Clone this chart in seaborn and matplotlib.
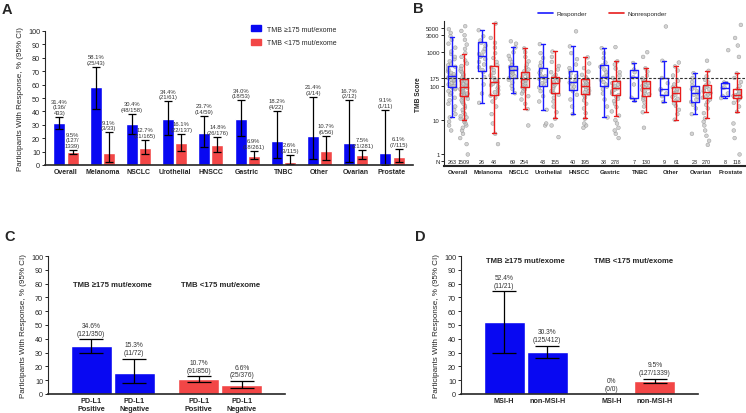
import numpy as np
import pandas as pd
import matplotlib
matplotlib.use('Agg')
import matplotlib.pyplot as plt
from matplotlib.lines import Line2D
from matplotlib.patches import Patch
import seaborn as sns

sns.set_theme(style='ticks')
plt.rcParams['font.family'] = ['Liberation Sans', 'DejaVu Sans']
plt.rcParams['axes.linewidth'] = 0.8

BLUE = '#0808f2'
RED = '#f24646'
HI = 'TMB \u2265175 mut/exome'
LO = 'TMB <175 mut/exome'
YLAB = 'Participants With Response, % (95% CI)'

####################################################################################################
# Panel A data: response rate by tumour type

cancers = ['Overall', 'Melanoma', 'NSCLC', 'Urothelial', 'HNSCC', 'Gastric', 'TNBC', 'Other',
           'Ovarian', 'Prostate']
hi_rate = [31.4, 58.1, 30.4, 34.4, 23.7, 34.0, 18.2, 21.4, 16.7, 9.1]
hi_ci_lo = [26.9, 42.1, 23.1, 22.3, 13.6, 21.6, 5.0, 4.6, 2.1, 0.2]
hi_ci_up = [36.0, 73.2, 38.2, 47.4, 36.6, 48.4, 40.3, 50.8, 48.4, 41.3]
hi_text = ['31.4%\n(136/\n433)', '58.1%\n(25/43)', '30.4%\n(48/158)', '34.4%\n(21/61)',
           '23.7%\n(14/59)', '34.0%\n(18/53)', '18.2%\n(4/22)', '21.4%\n(3/14)',
           '16.7%\n(2/12)', '9.1%\n(1/11)']
lo_rate = [9.5, 9.1, 12.7, 16.1, 14.8, 6.9, 2.6, 10.7, 7.5, 6.1]
lo_ci_lo = [8.0, 1.9, 8.1, 10.2, 9.9, 4.2, 0.5, 4.0, 4.7, 2.5]
lo_ci_up = [11.2, 24.3, 18.9, 23.3, 21.1, 10.7, 7.4, 21.9, 11.2, 12.1]
lo_text = ['9.5%\n(127/\n1339)', '9.1%\n(3/33)', '12.7%\n(21/165)', '16.1%\n(22/137)',
           '14.8%\n(26/176)', '6.9%\n(18/261)', '2.6%\n(3/115)', '10.7%\n(6/56)',
           '7.5%\n(21/281)', '6.1%\n(7/115)']

####################################################################################################
# Panel B data: TMB score by response (box summaries + approximate point values)

n_resp = [263, 26, 69, 43, 40, 38, 7, 9, 23, 8]
n_nonresp = [1509, 48, 254, 155, 195, 278, 130, 61, 270, 118]

# whisker low, Q1, median, Q3, whisker high
box_resp = [[12, 91, 190, 385, 2600], [32, 275, 725, 1850, 4200], [61, 166, 290, 385, 1320],
            [20, 101, 177, 325, 1650], [15, 75, 133, 275, 1420], [12, 97, 177, 405, 1260],
            [37, 45, 177, 295, 465], [34, 54, 81, 170, 540], [15, 34, 62, 101, 235],
            [44, 51, 87, 120, 126]]
box_nonresp = [[10.3, 51, 91, 158, 850], [4.1, 55, 126, 385, 6600], [21, 91, 158, 248, 1240],
               [11.3, 62, 120, 177, 1020], [11.3, 58, 101, 158, 680], [13.5, 54, 85, 135, 520],
               [17, 51, 85, 141, 325], [10.3, 37, 62, 91, 370], [11.3, 43, 68, 108, 275],
               [17.6, 43, 54, 81, 230]]

pts_resp = [
    [5, 7, 9, 12, 15, 20, 25, 30, 38, 45, 55, 62, 70, 80, 85, 90, 95, 100, 110, 120, 125, 140,
     150, 155, 170, 180, 185, 190, 200, 210, 220, 240, 265, 290, 320, 360, 400, 450, 520, 600,
     700, 850, 1000, 1300, 1700, 2200, 2800, 3500, 4500],
    [32, 60, 110, 180, 250, 290, 350, 420, 500, 600, 700, 760, 850, 1000, 1200, 1500, 1800, 2100,
     2800, 4200],
    [61, 80, 100, 125, 150, 170, 190, 210, 230, 250, 270, 290, 310, 330, 360, 390, 430, 500, 600,
     750, 950, 1320, 1700, 2000],
    [7, 8, 20, 35, 50, 70, 90, 105, 120, 140, 160, 175, 190, 210, 240, 280, 320, 380, 480, 650,
     900, 1650],
    [15, 25, 40, 55, 70, 80, 95, 110, 125, 135, 150, 170, 195, 230, 270, 330, 420, 600, 900, 1420,
     3900],
    [12, 25, 40, 60, 80, 95, 110, 130, 150, 170, 185, 210, 250, 300, 360, 400, 480, 650, 900, 1260],
    [37, 45, 110, 177, 250, 300, 465],
    [34, 50, 60, 75, 81, 120, 170, 540, 5400],
    [4, 15, 22, 28, 34, 40, 48, 55, 62, 70, 80, 90, 101, 130, 170, 235],
    [44, 51, 60, 87, 90, 120, 126, 1100],
]
pts_nonresp = [
    [1, 2, 3, 4, 5, 6, 7, 8, 9, 10, 11, 12, 13, 15, 17, 20, 23, 26, 30, 34, 38, 42, 46, 50, 52,
     55, 58, 60, 65, 68, 70, 75, 80, 85, 88, 90, 95, 100, 106, 112, 120, 128, 136, 145, 155, 165,
     180, 200, 220, 250, 280, 320, 380, 450, 550, 700, 900, 1200, 1600, 2200, 3000, 4000, 5500],
    [2, 4, 8, 15, 25, 35, 45, 52, 58, 65, 75, 85, 95, 105, 115, 125, 135, 150, 170, 200, 240, 290,
     350, 400, 500, 650, 900, 1300, 1800, 2500, 6600],
    [7, 21, 30, 40, 50, 60, 70, 80, 90, 95, 100, 110, 120, 130, 140, 150, 160, 170, 185, 200, 220,
     245, 270, 300, 350, 420, 520, 700, 950, 1240],
    [3.2, 7, 11, 17, 25, 35, 45, 55, 62, 70, 80, 90, 100, 110, 120, 130, 140, 155, 170, 185, 210,
     250, 300, 380, 500, 700, 1000],
    [6, 7, 8, 11, 16, 22, 30, 38, 46, 52, 58, 65, 72, 80, 88, 95, 101, 110, 120, 130, 145, 160,
     180, 210, 260, 330, 450, 680],
    [3, 4, 5, 6, 8, 10, 13.5, 18, 24, 30, 36, 42, 48, 54, 60, 66, 72, 78, 85, 92, 100, 110, 120,
     135, 150, 170, 200, 250, 320, 420, 520, 1350],
    [6, 17, 25, 33, 40, 46, 51, 57, 63, 70, 77, 85, 92, 100, 110, 120, 130, 141, 165, 200, 260,
     325, 700, 960],
    [10.3, 15, 20, 26, 31, 37, 42, 48, 55, 62, 68, 75, 83, 91, 110, 140, 200, 280, 370, 480],
    [1.9, 2.5, 3.5, 5, 7, 9, 11.3, 16, 22, 28, 34, 40, 45, 50, 56, 62, 68, 74, 80, 88, 96, 108,
     125, 150, 190, 275, 540],
    [1, 3, 5, 8, 17.6, 25, 32, 38, 43, 47, 51, 54, 58, 63, 70, 81, 100, 130, 170, 230, 700, 1500,
     2500, 6000],
]

####################################################################################################
# Panel C / D data

c_labels = ['PD-L1\nPositive', 'PD-L1\nNegative', 'PD-L1\nPositive', 'PD-L1\nNegative']
c_rate = [34.6, 15.3, 10.7, 6.6]
c_ci_lo = [29.6, 7.9, 8.7, 4.3]
c_ci_up = [39.8, 25.7, 13.0, 9.6]
c_text = ['34.6%\n(121/350)', '15.3%\n(11/72)', '10.7%\n(91/850)', '6.6%\n(25/376)']

d_labels = ['MSI-H', 'non-MSI-H', 'MSI-H', 'non-MSI-H']
d_rate = [52.4, 30.3, 0.0, 9.5]
d_ci_lo = [29.8, 25.9, np.nan, 8.0]
d_ci_up = [74.3, 35.1, np.nan, 11.2]
d_text = ['52.4%\n(11/21)', '30.3%\n(125/412)', '0%\n(0/0)', '9.5%\n(127/1339)']

cd_group = [HI, HI, LO, LO]
cd_pos = [0, 1, 2.5, 3.5]

####################################################################################################

fig = plt.figure(figsize=(7.46, 4.14), dpi=100)
pal = {HI: BLUE, LO: RED}
tick_fs = 5.2
ann_fs = 4.2


def pct_axis(ax):
    ax.set_ylim(0, 100)
    ax.set_yticks(range(0, 101, 10))
    ax.tick_params(axis='y', labelsize=tick_fs, length=2.5, width=0.7, pad=1)
    ax.tick_params(axis='x', length=0, pad=2)
    ax.set_ylabel(YLAB, fontsize=5.8, labelpad=3)
    ax.spines['bottom'].set_linewidth(1.2)
    sns.despine(ax=ax)


# ---------------- Panel A ----------------
axA = fig.add_axes([45 / 746, 1 - 166 / 414, 368 / 746, 134 / 414])
dfA = pd.DataFrame({'cancer': cancers * 2,
                    'group': [HI] * len(cancers) + [LO] * len(cancers),
                    'rate': hi_rate + lo_rate})
sns.barplot(data=dfA, x='cancer', y='rate', hue='group', order=cancers, hue_order=[HI, LO],
            palette=pal, width=0.72, gap=0.08, errorbar=None, saturation=1, legend=False, ax=axA)
xs = np.arange(len(cancers))
for off, rate, lo, up, txt in [(-0.18, hi_rate, hi_ci_lo, hi_ci_up, hi_text),
                               (0.18, lo_rate, lo_ci_lo, lo_ci_up, lo_text)]:
    rate = np.array(rate)
    axA.errorbar(xs + off, rate, yerr=[rate - np.array(lo), np.array(up) - rate], fmt='none',
                 ecolor='black', elinewidth=0.9, capsize=3.2, capthick=0.9)
    for x, u, t in zip(xs + off, up, txt):
        axA.text(x, u + 1.5, t, ha='center', va='bottom', fontsize=ann_fs, color='#333333',
                 linespacing=1.15)
axA.set_xlim(-0.58, len(cancers) - 0.42)
axA.set_xlabel('')
pct_axis(axA)
axA.set_xticks(xs)
axA.set_xticklabels(cancers, fontsize=5.0, fontweight='bold')
axA.legend(handles=[Patch(color=BLUE, label=HI), Patch(color=RED, label=LO)],
           loc='upper left', bbox_to_anchor=(245 / 746, 1 - 20 / 414),
           bbox_transform=fig.transFigure, frameon=False, fontsize=5.0, handlelength=1.4,
           handleheight=0.9, labelspacing=0.9, handletextpad=0.8)

# ---------------- Panel B ----------------
axB = fig.add_axes([444 / 746, 1 - 167 / 414, 301 / 746, 145 / 414])
rows_box, rows_pts = [], []
for c, br, bn, pr, pn in zip(cancers, box_resp, box_nonresp, pts_resp, pts_nonresp):
    rows_box += [(c, 'Responder', v) for v in br] + [(c, 'Nonresponder', v) for v in bn]
    rows_pts += [(c, 'Responder', v) for v in pr] + [(c, 'Nonresponder', v) for v in pn]
dfB_box = pd.DataFrame(rows_box, columns=['cancer', 'resp', 'tmb'])
dfB_pts = pd.DataFrame(rows_pts, columns=['cancer', 'resp', 'tmb'])
hue_b = ['Responder', 'Nonresponder']

sns.stripplot(data=dfB_pts, x='cancer', y='tmb', hue='resp', order=cancers, hue_order=hue_b,
              palette=['#c8c8c8', '#c8c8c8'], dodge=True, jitter=0.26, size=2.7,
              edgecolor='#8c8c8c', linewidth=0.35, alpha=0.8, log_scale=True, legend=False,
              ax=axB, zorder=1)
sns.boxplot(data=dfB_box, x='cancer', y='tmb', hue='resp', order=cancers, hue_order=hue_b,
            palette={'Responder': '#1a1aff', 'Nonresponder': '#e81c1c'}, fill=False,
            width=0.8, gap=0.35, whis=(0, 100), showfliers=False, linewidth=1.0,
            legend=False, ax=axB)
axB.set_yscale('log')
axB.set_ylim(0.46, 7800)
axB.axhline(175, ls=(0, (2.5, 1.5)), color='#333333', lw=0.8, zorder=3)
for i, (nr, nn) in enumerate(zip(n_resp, n_nonresp)):
    axB.text(i - 0.2, 0.63, str(nr), ha='center', va='center', fontsize=3.9, color='#222222')
    axB.text(i + 0.2, 0.63, str(nn), ha='center', va='center', fontsize=3.9, color='#222222')
axB.set_yticks([0.63, 1, 10, 100, 175, 1000, 3000, 5000])
axB.set_yticklabels(['N', '1', '10', '100', '175', '1000', '3000', '5000'])
axB.yaxis.set_minor_locator(matplotlib.ticker.NullLocator())
axB.tick_params(axis='y', labelsize=4.3, length=2.2, width=0.7, pad=1)
axB.tick_params(axis='x', length=0, pad=2)
axB.set_xlim(-0.46, len(cancers) - 0.54)
axB.set_xticks(xs)
axB.set_xticklabels(cancers, fontsize=4.3, fontweight='bold')
axB.set_xlabel('')
axB.set_ylabel('TMB Score', fontsize=4.8, fontweight='bold', labelpad=3)
axB.spines['bottom'].set_linewidth(1.5)
sns.despine(ax=axB)
axB.legend(handles=[Line2D([], [], color='#1a1aff', lw=1.2, label='Responder'),
                    Line2D([], [], color='#e81c1c', lw=1.2, label='Nonresponder')],
           loc='center left', bbox_to_anchor=(532 / 746, 1 - 14 / 414),
           bbox_transform=fig.transFigure, ncol=2, frameon=False, fontsize=4.5,
           handlelength=2.4, columnspacing=3.5, handletextpad=0.6)


# ---------------- Panels C and D ----------------
def cd_panel(rect, labels, rate, ci_lo, ci_up, texts, head_y):
    ax = fig.add_axes(rect)
    df = pd.DataFrame({'pos': cd_pos, 'rate': rate, 'group': cd_group})
    sns.barplot(data=df, x='pos', y='rate', hue='group', hue_order=[HI, LO], palette=pal,
                native_scale=True, dodge=False, width=0.95, errorbar=None, saturation=1,
                legend=False, ax=ax)
    r = np.array(rate)
    lo, up = np.array(ci_lo), np.array(ci_up)
    ax.errorbar(cd_pos, r, yerr=[r - lo, up - r], fmt='none', ecolor='black', elinewidth=0.9,
                capsize=8.5, capthick=0.9)
    for x, v, u, t in zip(cd_pos, r, up, texts):
        top = v if np.isnan(u) else u
        ax.text(x, top + 1.8, t, ha='center', va='bottom', fontsize=4.8, color='#333333',
                linespacing=1.15)
    ax.text(0.5, head_y, HI, ha='center', va='center', fontsize=5.6, fontweight='bold')
    ax.text(3.0, head_y, LO, ha='center', va='center', fontsize=5.6, fontweight='bold')
    ax.set_xlim(-1, 4.5)
    ax.set_xlabel('')
    pct_axis(ax)
    ax.set_xticks(cd_pos)
    ax.set_xticklabels(labels, fontsize=5.2, fontweight='bold', linespacing=1.3)
    return ax


axC = cd_panel([48 / 746, 1 - 395 / 414, 237 / 746, 138 / 414], c_labels, c_rate, c_ci_lo,
               c_ci_up, c_text, 79.5)
axD = cd_panel([461 / 746, 1 - 395 / 414, 237 / 746, 138 / 414], d_labels, d_rate, d_ci_lo,
               d_ci_up, d_text, 97)

for lab, x, y in [('A', 2, 10), ('B', 413, 9), ('C', 4, 237), ('D', 415, 237)]:
    fig.text(x / 746, 1 - y / 414, lab, fontsize=10.5, fontweight='bold', va='center',
             ha='left')

fig.savefig('out.png', dpi=100)
